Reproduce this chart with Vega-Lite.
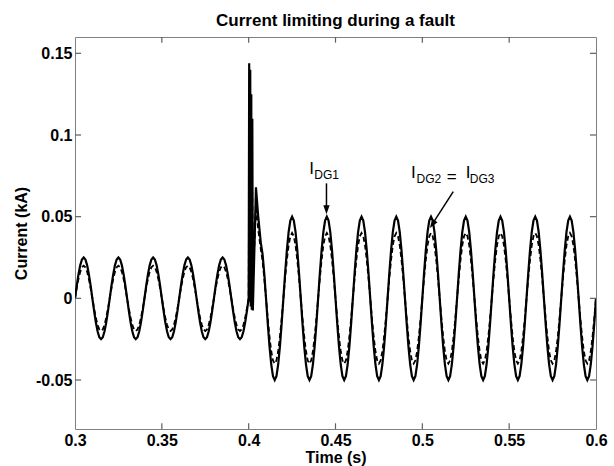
{
 "$schema": "https://vega.github.io/schema/vega-lite/v6.json",
 "width": 521, "height": 392,
 "autosize": "none",
 "padding": {"left": 75, "top": 37, "right": 18, "bottom": 37},
 "background": "white",
 "config": {
  "font": "Liberation Sans",
  "view": {"stroke": "#808080", "strokeWidth": 1},
  "axis": {"grid": false, "domain": false, "ticks": false, "labelFont": "Liberation Sans", "labelFontWeight": "bold", "labelFontSize": 16, "labelColor": "black", "titleFont": "Liberation Sans", "titleFontWeight": "bold", "titleFontSize": 16, "titleColor": "black", "labelPadding": 3}
 },
 "title": {"text": "Current limiting during a fault", "font": "Liberation Sans", "fontSize": 17, "fontWeight": "bold", "color": "black", "anchor": "middle", "frame": "group", "offset": 6},
 "datasets": {
  "xt": [{"v": 0.35}, {"v": 0.4}, {"v": 0.45}, {"v": 0.5}, {"v": 0.55}],
  "yt": [{"v": -0.05}, {"v": 0}, {"v": 0.05}, {"v": 0.1}, {"v": 0.15}],
  "w": [
{"t":0.300,"a":0,"b":0},{"t":0.301,"a":0.0077,"b":0.0062},{"t":0.302,"a":0.0147,"b":0.0118},{"t":0.303,"a":0.0202,"b":0.0162},{"t":0.304,"a":0.0238,"b":0.019},{"t":0.305,"a":0.025,"b":0.02},{"t":0.306,"a":0.0238,"b":0.019},{"t":0.307,"a":0.0202,"b":0.0162},{"t":0.308,"a":0.0147,"b":0.0118},{"t":0.309,"a":0.0077,"b":0.0062},
{"t":0.310,"a":0,"b":0},{"t":0.311,"a":-0.0077,"b":-0.0062},{"t":0.312,"a":-0.0147,"b":-0.0118},{"t":0.313,"a":-0.0202,"b":-0.0162},{"t":0.314,"a":-0.0238,"b":-0.019},{"t":0.315,"a":-0.025,"b":-0.02},{"t":0.316,"a":-0.0238,"b":-0.019},{"t":0.317,"a":-0.0202,"b":-0.0162},{"t":0.318,"a":-0.0147,"b":-0.0118},{"t":0.319,"a":-0.0077,"b":-0.0062},
{"t":0.320,"a":0,"b":0},{"t":0.321,"a":0.0077,"b":0.0062},{"t":0.322,"a":0.0147,"b":0.0118},{"t":0.323,"a":0.0202,"b":0.0162},{"t":0.324,"a":0.0238,"b":0.019},{"t":0.325,"a":0.025,"b":0.02},{"t":0.326,"a":0.0238,"b":0.019},{"t":0.327,"a":0.0202,"b":0.0162},{"t":0.328,"a":0.0147,"b":0.0118},{"t":0.329,"a":0.0077,"b":0.0062},
{"t":0.330,"a":0,"b":0},{"t":0.331,"a":-0.0077,"b":-0.0062},{"t":0.332,"a":-0.0147,"b":-0.0118},{"t":0.333,"a":-0.0202,"b":-0.0162},{"t":0.334,"a":-0.0238,"b":-0.019},{"t":0.335,"a":-0.025,"b":-0.02},{"t":0.336,"a":-0.0238,"b":-0.019},{"t":0.337,"a":-0.0202,"b":-0.0162},{"t":0.338,"a":-0.0147,"b":-0.0118},{"t":0.339,"a":-0.0077,"b":-0.0062},
{"t":0.340,"a":0,"b":0},{"t":0.341,"a":0.0077,"b":0.0062},{"t":0.342,"a":0.0147,"b":0.0118},{"t":0.343,"a":0.0202,"b":0.0162},{"t":0.344,"a":0.0238,"b":0.019},{"t":0.345,"a":0.025,"b":0.02},{"t":0.346,"a":0.0238,"b":0.019},{"t":0.347,"a":0.0202,"b":0.0162},{"t":0.348,"a":0.0147,"b":0.0118},{"t":0.349,"a":0.0077,"b":0.0062},
{"t":0.350,"a":0,"b":0},{"t":0.351,"a":-0.0077,"b":-0.0062},{"t":0.352,"a":-0.0147,"b":-0.0118},{"t":0.353,"a":-0.0202,"b":-0.0162},{"t":0.354,"a":-0.0238,"b":-0.019},{"t":0.355,"a":-0.025,"b":-0.02},{"t":0.356,"a":-0.0238,"b":-0.019},{"t":0.357,"a":-0.0202,"b":-0.0162},{"t":0.358,"a":-0.0147,"b":-0.0118},{"t":0.359,"a":-0.0077,"b":-0.0062},
{"t":0.360,"a":0,"b":0},{"t":0.361,"a":0.0077,"b":0.0062},{"t":0.362,"a":0.0147,"b":0.0118},{"t":0.363,"a":0.0202,"b":0.0162},{"t":0.364,"a":0.0238,"b":0.019},{"t":0.365,"a":0.025,"b":0.02},{"t":0.366,"a":0.0238,"b":0.019},{"t":0.367,"a":0.0202,"b":0.0162},{"t":0.368,"a":0.0147,"b":0.0118},{"t":0.369,"a":0.0077,"b":0.0062},
{"t":0.370,"a":0,"b":0},{"t":0.371,"a":-0.0077,"b":-0.0062},{"t":0.372,"a":-0.0147,"b":-0.0118},{"t":0.373,"a":-0.0202,"b":-0.0162},{"t":0.374,"a":-0.0238,"b":-0.019},{"t":0.375,"a":-0.025,"b":-0.02},{"t":0.376,"a":-0.0238,"b":-0.019},{"t":0.377,"a":-0.0202,"b":-0.0162},{"t":0.378,"a":-0.0147,"b":-0.0118},{"t":0.379,"a":-0.0077,"b":-0.0062},
{"t":0.380,"a":0,"b":0},{"t":0.381,"a":0.0077,"b":0.0062},{"t":0.382,"a":0.0147,"b":0.0118},{"t":0.383,"a":0.0202,"b":0.0162},{"t":0.384,"a":0.0238,"b":0.019},{"t":0.385,"a":0.025,"b":0.02},{"t":0.386,"a":0.0238,"b":0.019},{"t":0.387,"a":0.0202,"b":0.0162},{"t":0.388,"a":0.0147,"b":0.0118},{"t":0.389,"a":0.0077,"b":0.0062},
{"t":0.390,"a":0,"b":0},{"t":0.391,"a":-0.0077,"b":-0.0062},{"t":0.392,"a":-0.0147,"b":-0.0118},{"t":0.393,"a":-0.0202,"b":-0.0162},{"t":0.394,"a":-0.0238,"b":-0.019},{"t":0.395,"a":-0.025,"b":-0.02},{"t":0.396,"a":-0.0238,"b":-0.019},{"t":0.397,"a":-0.0202,"b":-0.0162},{"t":0.398,"a":-0.0147,"b":-0.0118},{"t":0.399,"a":-0.0077,"b":-0.0062},
{"t":0.400,"a":0,"b":0},{"t":0.4003,"a":0.144,"b":0.09},{"t":0.4006,"a":-0.002,"b":0.004},{"t":0.4009,"a":0.14,"b":0.085},{"t":0.4012,"a":-0.005,"b":0.003},{"t":0.4015,"a":0.125,"b":0.075},{"t":0.4018,"a":-0.007,"b":0.002},{"t":0.4021,"a":0.11,"b":0.065},{"t":0.4024,"a":-0.0075,"b":0.01},{"t":0.4042,"a":0.068,"b":0.056},{"t":0.4055,"a":0.05,"b":0.042},{"t":0.407,"a":0.034,"b":0.03},{"t":0.408,"a":0.027,"b":0.023},{"t":0.409,"a":0.015,"b":0.012},
{"t":0.410,"a":0,"b":0},{"t":0.411,"a":-0.0155,"b":-0.0124},{"t":0.412,"a":-0.0294,"b":-0.0235},{"t":0.413,"a":-0.0405,"b":-0.0324},{"t":0.414,"a":-0.0476,"b":-0.038},{"t":0.415,"a":-0.05,"b":-0.04},{"t":0.416,"a":-0.0476,"b":-0.038},{"t":0.417,"a":-0.0405,"b":-0.0324},{"t":0.418,"a":-0.0294,"b":-0.0235},{"t":0.419,"a":-0.0155,"b":-0.0124},
{"t":0.420,"a":0,"b":0},{"t":0.421,"a":0.0155,"b":0.0124},{"t":0.422,"a":0.0294,"b":0.0235},{"t":0.423,"a":0.0405,"b":0.0324},{"t":0.424,"a":0.0476,"b":0.038},{"t":0.425,"a":0.05,"b":0.04},{"t":0.426,"a":0.0476,"b":0.038},{"t":0.427,"a":0.0405,"b":0.0324},{"t":0.428,"a":0.0294,"b":0.0235},{"t":0.429,"a":0.0155,"b":0.0124},
{"t":0.430,"a":0,"b":0},{"t":0.431,"a":-0.0155,"b":-0.0124},{"t":0.432,"a":-0.0294,"b":-0.0235},{"t":0.433,"a":-0.0405,"b":-0.0324},{"t":0.434,"a":-0.0476,"b":-0.038},{"t":0.435,"a":-0.05,"b":-0.04},{"t":0.436,"a":-0.0476,"b":-0.038},{"t":0.437,"a":-0.0405,"b":-0.0324},{"t":0.438,"a":-0.0294,"b":-0.0235},{"t":0.439,"a":-0.0155,"b":-0.0124},
{"t":0.440,"a":0,"b":0},{"t":0.441,"a":0.0155,"b":0.0124},{"t":0.442,"a":0.0294,"b":0.0235},{"t":0.443,"a":0.0405,"b":0.0324},{"t":0.444,"a":0.0476,"b":0.038},{"t":0.445,"a":0.05,"b":0.04},{"t":0.446,"a":0.0476,"b":0.038},{"t":0.447,"a":0.0405,"b":0.0324},{"t":0.448,"a":0.0294,"b":0.0235},{"t":0.449,"a":0.0155,"b":0.0124},
{"t":0.450,"a":0,"b":0},{"t":0.451,"a":-0.0155,"b":-0.0124},{"t":0.452,"a":-0.0294,"b":-0.0235},{"t":0.453,"a":-0.0405,"b":-0.0324},{"t":0.454,"a":-0.0476,"b":-0.038},{"t":0.455,"a":-0.05,"b":-0.04},{"t":0.456,"a":-0.0476,"b":-0.038},{"t":0.457,"a":-0.0405,"b":-0.0324},{"t":0.458,"a":-0.0294,"b":-0.0235},{"t":0.459,"a":-0.0155,"b":-0.0124},
{"t":0.460,"a":0,"b":0},{"t":0.461,"a":0.0155,"b":0.0124},{"t":0.462,"a":0.0294,"b":0.0235},{"t":0.463,"a":0.0405,"b":0.0324},{"t":0.464,"a":0.0476,"b":0.038},{"t":0.465,"a":0.05,"b":0.04},{"t":0.466,"a":0.0476,"b":0.038},{"t":0.467,"a":0.0405,"b":0.0324},{"t":0.468,"a":0.0294,"b":0.0235},{"t":0.469,"a":0.0155,"b":0.0124},
{"t":0.470,"a":0,"b":0},{"t":0.471,"a":-0.0155,"b":-0.0124},{"t":0.472,"a":-0.0294,"b":-0.0235},{"t":0.473,"a":-0.0405,"b":-0.0324},{"t":0.474,"a":-0.0476,"b":-0.038},{"t":0.475,"a":-0.05,"b":-0.04},{"t":0.476,"a":-0.0476,"b":-0.038},{"t":0.477,"a":-0.0405,"b":-0.0324},{"t":0.478,"a":-0.0294,"b":-0.0235},{"t":0.479,"a":-0.0155,"b":-0.0124},
{"t":0.480,"a":0,"b":0},{"t":0.481,"a":0.0155,"b":0.0124},{"t":0.482,"a":0.0294,"b":0.0235},{"t":0.483,"a":0.0405,"b":0.0324},{"t":0.484,"a":0.0476,"b":0.038},{"t":0.485,"a":0.05,"b":0.04},{"t":0.486,"a":0.0476,"b":0.038},{"t":0.487,"a":0.0405,"b":0.0324},{"t":0.488,"a":0.0294,"b":0.0235},{"t":0.489,"a":0.0155,"b":0.0124},
{"t":0.490,"a":0,"b":0},{"t":0.491,"a":-0.0155,"b":-0.0124},{"t":0.492,"a":-0.0294,"b":-0.0235},{"t":0.493,"a":-0.0405,"b":-0.0324},{"t":0.494,"a":-0.0476,"b":-0.038},{"t":0.495,"a":-0.05,"b":-0.04},{"t":0.496,"a":-0.0476,"b":-0.038},{"t":0.497,"a":-0.0405,"b":-0.0324},{"t":0.498,"a":-0.0294,"b":-0.0235},{"t":0.499,"a":-0.0155,"b":-0.0124},
{"t":0.500,"a":0,"b":0},{"t":0.501,"a":0.0155,"b":0.0124},{"t":0.502,"a":0.0294,"b":0.0235},{"t":0.503,"a":0.0405,"b":0.0324},{"t":0.504,"a":0.0476,"b":0.038},{"t":0.505,"a":0.05,"b":0.04},{"t":0.506,"a":0.0476,"b":0.038},{"t":0.507,"a":0.0405,"b":0.0324},{"t":0.508,"a":0.0294,"b":0.0235},{"t":0.509,"a":0.0155,"b":0.0124},
{"t":0.510,"a":0,"b":0},{"t":0.511,"a":-0.0155,"b":-0.0124},{"t":0.512,"a":-0.0294,"b":-0.0235},{"t":0.513,"a":-0.0405,"b":-0.0324},{"t":0.514,"a":-0.0476,"b":-0.038},{"t":0.515,"a":-0.05,"b":-0.04},{"t":0.516,"a":-0.0476,"b":-0.038},{"t":0.517,"a":-0.0405,"b":-0.0324},{"t":0.518,"a":-0.0294,"b":-0.0235},{"t":0.519,"a":-0.0155,"b":-0.0124},
{"t":0.520,"a":0,"b":0},{"t":0.521,"a":0.0155,"b":0.0124},{"t":0.522,"a":0.0294,"b":0.0235},{"t":0.523,"a":0.0405,"b":0.0324},{"t":0.524,"a":0.0476,"b":0.038},{"t":0.525,"a":0.05,"b":0.04},{"t":0.526,"a":0.0476,"b":0.038},{"t":0.527,"a":0.0405,"b":0.0324},{"t":0.528,"a":0.0294,"b":0.0235},{"t":0.529,"a":0.0155,"b":0.0124},
{"t":0.530,"a":0,"b":0},{"t":0.531,"a":-0.0155,"b":-0.0124},{"t":0.532,"a":-0.0294,"b":-0.0235},{"t":0.533,"a":-0.0405,"b":-0.0324},{"t":0.534,"a":-0.0476,"b":-0.038},{"t":0.535,"a":-0.05,"b":-0.04},{"t":0.536,"a":-0.0476,"b":-0.038},{"t":0.537,"a":-0.0405,"b":-0.0324},{"t":0.538,"a":-0.0294,"b":-0.0235},{"t":0.539,"a":-0.0155,"b":-0.0124},
{"t":0.540,"a":0,"b":0},{"t":0.541,"a":0.0155,"b":0.0124},{"t":0.542,"a":0.0294,"b":0.0235},{"t":0.543,"a":0.0405,"b":0.0324},{"t":0.544,"a":0.0476,"b":0.038},{"t":0.545,"a":0.05,"b":0.04},{"t":0.546,"a":0.0476,"b":0.038},{"t":0.547,"a":0.0405,"b":0.0324},{"t":0.548,"a":0.0294,"b":0.0235},{"t":0.549,"a":0.0155,"b":0.0124},
{"t":0.550,"a":0,"b":0},{"t":0.551,"a":-0.0155,"b":-0.0124},{"t":0.552,"a":-0.0294,"b":-0.0235},{"t":0.553,"a":-0.0405,"b":-0.0324},{"t":0.554,"a":-0.0476,"b":-0.038},{"t":0.555,"a":-0.05,"b":-0.04},{"t":0.556,"a":-0.0476,"b":-0.038},{"t":0.557,"a":-0.0405,"b":-0.0324},{"t":0.558,"a":-0.0294,"b":-0.0235},{"t":0.559,"a":-0.0155,"b":-0.0124},
{"t":0.560,"a":0,"b":0},{"t":0.561,"a":0.0155,"b":0.0124},{"t":0.562,"a":0.0294,"b":0.0235},{"t":0.563,"a":0.0405,"b":0.0324},{"t":0.564,"a":0.0476,"b":0.038},{"t":0.565,"a":0.05,"b":0.04},{"t":0.566,"a":0.0476,"b":0.038},{"t":0.567,"a":0.0405,"b":0.0324},{"t":0.568,"a":0.0294,"b":0.0235},{"t":0.569,"a":0.0155,"b":0.0124},
{"t":0.570,"a":0,"b":0},{"t":0.571,"a":-0.0155,"b":-0.0124},{"t":0.572,"a":-0.0294,"b":-0.0235},{"t":0.573,"a":-0.0405,"b":-0.0324},{"t":0.574,"a":-0.0476,"b":-0.038},{"t":0.575,"a":-0.05,"b":-0.04},{"t":0.576,"a":-0.0476,"b":-0.038},{"t":0.577,"a":-0.0405,"b":-0.0324},{"t":0.578,"a":-0.0294,"b":-0.0235},{"t":0.579,"a":-0.0155,"b":-0.0124},
{"t":0.580,"a":0,"b":0},{"t":0.581,"a":0.0155,"b":0.0124},{"t":0.582,"a":0.0294,"b":0.0235},{"t":0.583,"a":0.0405,"b":0.0324},{"t":0.584,"a":0.0476,"b":0.038},{"t":0.585,"a":0.05,"b":0.04},{"t":0.586,"a":0.0476,"b":0.038},{"t":0.587,"a":0.0405,"b":0.0324},{"t":0.588,"a":0.0294,"b":0.0235},{"t":0.589,"a":0.0155,"b":0.0124},
{"t":0.590,"a":0,"b":0},{"t":0.591,"a":-0.0155,"b":-0.0124},{"t":0.592,"a":-0.0294,"b":-0.0235},{"t":0.593,"a":-0.0405,"b":-0.0324},{"t":0.594,"a":-0.0476,"b":-0.038},{"t":0.595,"a":-0.05,"b":-0.04},{"t":0.596,"a":-0.0476,"b":-0.038},{"t":0.597,"a":-0.0405,"b":-0.0324},{"t":0.598,"a":-0.0294,"b":-0.0235},{"t":0.599,"a":-0.0155,"b":-0.0124},
{"t":0.600,"a":0,"b":0}
  ]
 },
 "layer": [
  {
   "data": {"name": "w"},
   "mark": {"type": "line", "stroke": "black", "strokeWidth": 1.8, "strokeDash": [5, 3], "clip": true},
   "encoding": {
    "x": {"field": "t", "type": "quantitative", "scale": {"domain": [0.3, 0.6], "nice": false, "zero": false},
          "axis": {"orient": "bottom", "values": [0.3, 0.35, 0.4, 0.45, 0.5, 0.55, 0.6], "format": "~g", "title": "Time (s)", "titlePadding": 1, "labelFlush": false}},
    "y": {"field": "b", "type": "quantitative", "scale": {"domain": [-0.08, 0.16], "nice": false, "zero": false},
          "axis": {"orient": "left", "values": [-0.05, 0, 0.05, 0.1, 0.15], "format": "~g", "labelExpr": "replace(datum.label, '\u2212', '-')", "title": "Current (kA)", "titlePadding": 6}}
   }
  },
  {
   "data": {"name": "w"},
   "mark": {"type": "line", "stroke": "black", "strokeWidth": 2.2, "clip": true},
   "encoding": {
    "x": {"field": "t", "type": "quantitative"},
    "y": {"field": "a", "type": "quantitative"}
   }
  },
  {
   "data": {"name": "xt"},
   "mark": {"type": "rule", "color": "#606060", "strokeWidth": 1.2},
   "encoding": {
    "x": {"field": "v", "type": "quantitative"},
    "y": {"datum": -0.08, "type": "quantitative"},
    "y2": {"datum": -0.0765}
   }
  },
  {
   "data": {"name": "xt"},
   "mark": {"type": "rule", "color": "#606060", "strokeWidth": 1.2},
   "encoding": {
    "x": {"field": "v", "type": "quantitative"},
    "y": {"datum": 0.16, "type": "quantitative"},
    "y2": {"datum": 0.1565}
   }
  },
  {
   "data": {"name": "yt"},
   "mark": {"type": "rule", "color": "#606060", "strokeWidth": 1.2},
   "encoding": {
    "y": {"field": "v", "type": "quantitative"},
    "x": {"datum": 0.3, "type": "quantitative"},
    "x2": {"datum": 0.3035}
   }
  },
  {
   "data": {"name": "yt"},
   "mark": {"type": "rule", "color": "#606060", "strokeWidth": 1.2},
   "encoding": {
    "y": {"field": "v", "type": "quantitative"},
    "x": {"datum": 0.6, "type": "quantitative"},
    "x2": {"datum": 0.5965}
   }
  },
  {
   "data": {"values": [{"t": 0.4448, "v": 0.0704, "t2": 0.4448, "v2": 0.054}, {"t": 0.5178, "v": 0.0653, "t2": 0.5052, "v2": 0.0445}]},
   "mark": {"type": "rule", "stroke": "black", "strokeWidth": 1.5},
   "encoding": {
    "x": {"field": "t", "type": "quantitative"},
    "y": {"field": "v", "type": "quantitative"},
    "x2": {"field": "t2"},
    "y2": {"field": "v2"}
   }
  },
  {
   "data": {"values": [{"t": 0.4448, "v": 0.0515}]},
   "mark": {"type": "point", "shape": "M-0.35,-1L0.35,-1L0,0Z", "size": 324, "filled": true, "fill": "black", "stroke": null, "opacity": 1},
   "encoding": {
    "x": {"field": "t", "type": "quantitative"},
    "y": {"field": "v", "type": "quantitative"}
   }
  },
  {
   "data": {"values": [{"t": 0.5044, "v": 0.043}]},
   "mark": {"type": "point", "shape": "M-0.35,-1L0.35,-1L0,0Z", "size": 324, "filled": true, "fill": "black", "stroke": null, "opacity": 1, "angle": 33},
   "encoding": {
    "x": {"field": "t", "type": "quantitative"},
    "y": {"field": "v", "type": "quantitative"}
   }
  },
  {
   "data": {"values": [{"t": 0.4363, "v": 0.079, "s": "I"}, {"t": 0.4948, "v": 0.0768, "s": "I"}, {"t": 0.5169, "v": 0.0745, "s": "="}, {"t": 0.5263, "v": 0.0768, "s": "I"}]},
   "mark": {"type": "text", "font": "Liberation Sans", "fontSize": 17, "color": "black", "align": "center", "baseline": "middle"},
   "encoding": {
    "x": {"field": "t", "type": "quantitative"},
    "y": {"field": "v", "type": "quantitative"},
    "text": {"field": "s"}
   }
  },
  {
   "data": {"values": [{"t": 0.4449, "v": 0.0755, "s": "DG1"}, {"t": 0.5038, "v": 0.0733, "s": "DG2"}, {"t": 0.5344, "v": 0.0733, "s": "DG3"}]},
   "mark": {"type": "text", "font": "Liberation Sans", "fontSize": 12, "color": "black", "align": "center", "baseline": "middle"},
   "encoding": {
    "x": {"field": "t", "type": "quantitative"},
    "y": {"field": "v", "type": "quantitative"},
    "text": {"field": "s"}
   }
  }
 ]
}
